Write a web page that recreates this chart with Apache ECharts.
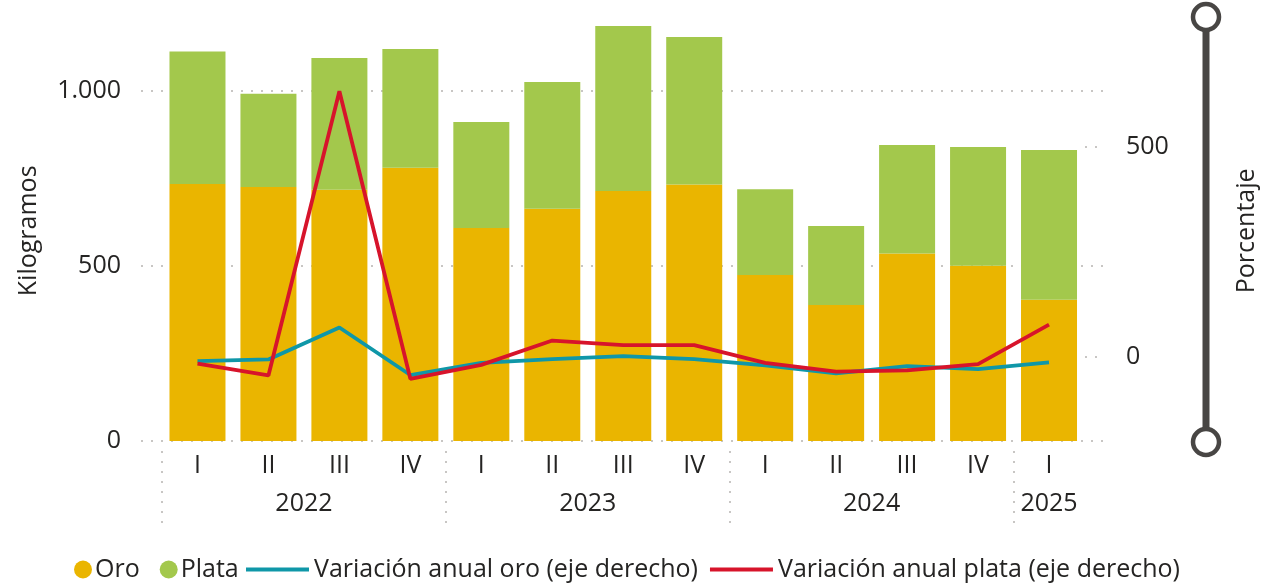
<!DOCTYPE html>
<html>
<head>
<meta charset="utf-8">
<script src="https://cdn.jsdelivr.net/npm/echarts@6/dist/echarts.min.js"></script>
<style>
  html, body { margin: 0; padding: 0; background: #fff; }
  #chart { width: 1261px; height: 583px; }
</style>
</head>
<body>
<div id="chart"></div>
<script>
// ---- Data ----
const quarters = ['I', 'II', 'III', 'IV', 'I', 'II', 'III', 'IV', 'I', 'II', 'III', 'IV', 'I'];
const years = ['2022', '2023', '2024', '2025'];
const quartersPerYear = [4, 4, 4, 1];
const oro = [734, 725, 717, 780, 608, 663, 714, 732, 474, 388, 535, 500, 403];
const plata = [378, 266, 376, 339, 303, 362, 471, 421, 245, 226, 310, 339, 428];
const varOro = [-10, -6, 70, -43, -14, -5, 2, -5, -20, -39, -22, -29, -13];
const varPlata = [-16, -44, 632, -52, -19, 39, 28, 28, -14, -35, -32, -17, 77];
const leftTicks = [0, 500, 1000];
const rightTicks = [0, 500];
const seriesNames = ['Oro', 'Plata', 'Variación anual oro (eje derecho)', 'Variación anual plata (eje derecho)'];

// ---- Year axis built from the year groups (half-quarter points) ----
const yearAxisData = new Array(quarters.length * 2 + 1).fill('');
const yearBoundaries = [];
let start = 0;
years.forEach((y, i) => {
  yearBoundaries.push(start * 2);
  yearAxisData[start * 2 + quartersPerYear[i]] = y;
  start += quartersPerYear[i];
});

const FONT = 'Open Sans';
const FS = 25;
const TXT = '#252423';
const GRID_COLOR = '#C8C6C4';
const fmtThousands = v => String(v).replace(/\B(?=(\d{3})+(?!\d))/g, '.');

// scale geometry
const BOTTOM = 441;
const PLOT_L = 162, PLOT_R = 1084.5;
const kLeft = (BOTTOM - 90.7) / 1000;        // px per kg
const leftMax = 1200, rightMin = -200, rightMax = 800;
const mainTop = BOTTOM - leftMax * kLeft;
const kRight = (BOTTOM - mainTop) / (rightMax - rightMin);
const rightZeroY = BOTTOM - (0 - rightMin) * kRight;
const right500Y = BOTTOM - (500 - rightMin) * kRight;

const chart = echarts.init(document.getElementById('chart'), null, { renderer: 'canvas' });

const dotted = { color: GRID_COLOR, width: 2, type: [2, 8] };
const labelStyle = { fontSize: FS, color: TXT, fontFamily: FONT };
const gridBase = { containLabel: false, outerBoundsMode: 'none' };

chart.setOption({
  animation: false,
  textStyle: { fontFamily: FONT, color: TXT },
  grid: [
    Object.assign({ left: PLOT_L, right: 1261 - PLOT_R, top: mainTop, bottom: 583 - BOTTOM }, gridBase),
    Object.assign({ left: 141, right: 1261 - 1105, top: BOTTOM - leftTicks[leftTicks.length - 1] * kLeft, bottom: 583 - BOTTOM }, gridBase),
    Object.assign({ left: 1085, right: 1261 - 1105, top: right500Y, bottom: 583 - rightZeroY }, gridBase),
    Object.assign({ left: PLOT_L, right: 1261 - PLOT_R, top: 451, bottom: 583 - 524 }, gridBase)
  ],
  legend: [
    {
      data: seriesNames.slice(0, 2),
      icon: 'circle', itemWidth: 18, itemHeight: 18, itemGap: 20,
      left: 69, top: 552,
      textStyle: { fontFamily: FONT, fontSize: FS, color: TXT, padding: [0, 0, 0, -2] }
    },
    {
      data: seriesNames.slice(2),
      icon: 'rect', itemWidth: 63, itemHeight: 4, itemGap: 12,
      left: 241, top: 552,
      textStyle: { fontFamily: FONT, fontSize: FS, color: TXT }
    }
  ],
  xAxis: [
    {
      type: 'category', gridIndex: 0, data: quarters, position: 'bottom',
      axisLine: { show: false }, axisTick: { show: false }, splitLine: { show: false },
      axisLabel: Object.assign({ margin: 12, interval: 0 }, labelStyle)
    },
    { type: 'value', gridIndex: 1, show: false, min: 0, max: 1 },
    { type: 'value', gridIndex: 2, show: false, min: 0, max: 1 },
    {
      type: 'category', gridIndex: 3, data: yearAxisData, position: 'bottom',
      boundaryGap: false,
      axisLine: { show: false }, axisTick: { show: false },
      splitLine: {
        show: true,
        interval: (idx) => yearBoundaries.includes(idx),
        lineStyle: dotted
      },
      axisLabel: Object.assign({ inside: true, margin: 8, interval: 0, showMinLabel: true, showMaxLabel: true }, labelStyle)
    }
  ],
  yAxis: [
    {
      type: 'value', gridIndex: 0, position: 'left', min: 0, max: leftMax,
      axisLabel: { show: false }, splitLine: { show: false }, axisLine: { show: false }, axisTick: { show: false },
      name: 'Kilogramos', nameLocation: 'middle', nameRotate: 90, nameGap: 121,
      nameTextStyle: labelStyle
    },
    {
      type: 'value', gridIndex: 0, position: 'right', min: rightMin, max: rightMax,
      axisLabel: { show: false }, splitLine: { show: false }, axisLine: { show: false }, axisTick: { show: false },
      name: 'Porcentaje', nameLocation: 'middle', nameRotate: 90, nameGap: 150,
      nameTextStyle: labelStyle
    },
    {
      type: 'value', gridIndex: 1, position: 'left',
      min: leftTicks[0], max: leftTicks[leftTicks.length - 1], interval: leftTicks[1] - leftTicks[0],
      axisLine: { show: false }, axisTick: { show: false },
      axisLabel: Object.assign({ margin: 20, formatter: fmtThousands }, labelStyle),
      splitLine: { show: true, lineStyle: dotted }
    },
    {
      type: 'value', gridIndex: 2, position: 'right',
      min: rightTicks[0], max: rightTicks[rightTicks.length - 1], interval: rightTicks[1] - rightTicks[0],
      axisLine: { show: false }, axisTick: { show: false },
      axisLabel: Object.assign({ margin: 21, formatter: fmtThousands }, labelStyle),
      splitLine: { show: true, lineStyle: dotted }
    },
    { type: 'value', gridIndex: 3, show: false, min: 0, max: 1 }
  ],
  series: [
    {
      name: seriesNames[0], type: 'bar', stack: 'kg', xAxisIndex: 0, yAxisIndex: 0,
      data: oro, barWidth: 56, itemStyle: { color: '#EAB500' }
    },
    {
      name: seriesNames[1], type: 'bar', stack: 'kg', xAxisIndex: 0, yAxisIndex: 0,
      data: plata, barWidth: 56, itemStyle: { color: '#A3C84C' }
    },
    {
      name: seriesNames[2], type: 'line', xAxisIndex: 0, yAxisIndex: 1,
      data: varOro, symbol: 'none', showSymbol: false,
      lineStyle: { color: '#0F97A8', width: 3.8 }, itemStyle: { color: '#0F97A8' }
    },
    {
      name: seriesNames[3], type: 'line', xAxisIndex: 0, yAxisIndex: 1,
      data: varPlata, symbol: 'none', showSymbol: false,
      lineStyle: { color: '#D7142B', width: 3.8 }, itemStyle: { color: '#D7142B' }
    }
  ],
  graphic: [
    {
      type: 'group', silent: true,
      children: [
        { type: 'line', shape: { x1: 1206, y1: 18, x2: 1206, y2: 442 }, style: { stroke: '#484644', lineWidth: 7 } },
        { type: 'circle', shape: { cx: 1206, cy: 17, r: 13 }, style: { fill: '#fff', stroke: '#484644', lineWidth: 4.5 } },
        { type: 'circle', shape: { cx: 1206, cy: 442, r: 13 }, style: { fill: '#fff', stroke: '#484644', lineWidth: 4.5 } }
      ]
    }
  ]
});
</script>
</body>
</html>
